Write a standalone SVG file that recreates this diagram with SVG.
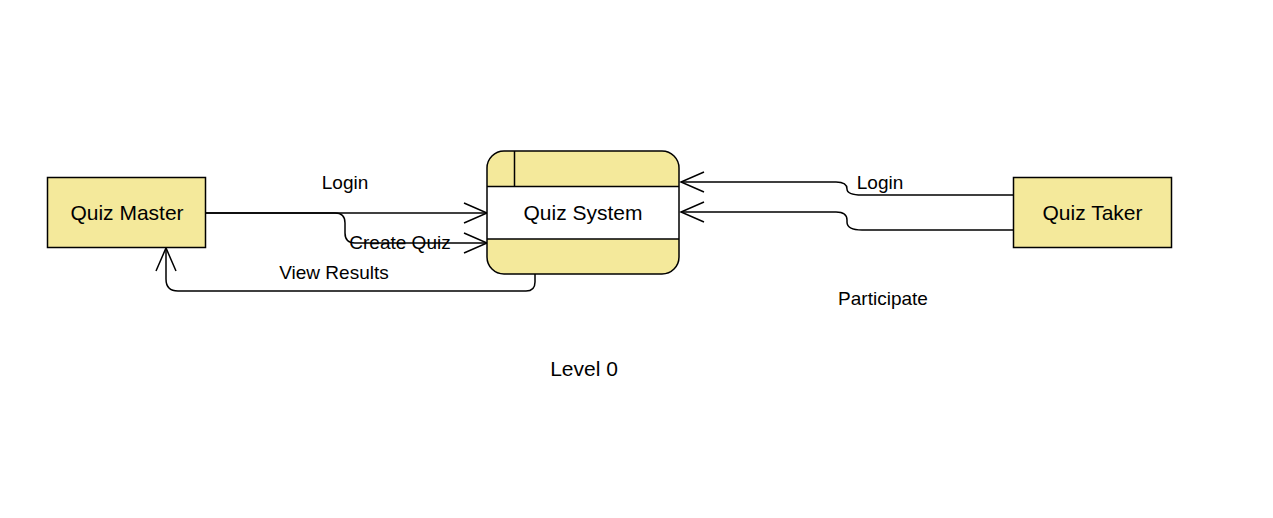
<svg xmlns="http://www.w3.org/2000/svg" width="1273" height="518" viewBox="0 0 1273 518">
<style>
.box{fill:#f4e99b;stroke:#000;stroke-width:1.5}
.ln{fill:none;stroke:#000;stroke-width:1.5}
.t{font-family:"Liberation Sans",Arial,sans-serif;fill:#000;text-anchor:middle}
.n{font-size:21px}
.l{font-size:19px}
</style>
<defs>
<marker id="arr" viewBox="-25 -12 27 24" markerWidth="27" markerHeight="24" refX="0" refY="0" orient="auto" markerUnits="userSpaceOnUse">
<path d="M-23,-10 L0,0 L-23,10" fill="none" stroke="#000" stroke-width="1.5"/>
</marker>
</defs>
<rect width="1273" height="518" fill="#fff"/>
<g id="connectors">
<path class="ln" d="M205,213 L487,213" marker-end="url(#arr)"/>
<path class="ln" d="M205,213 L335,213 Q345,213 345,223 L345,233 Q345,243 355,243 L487,243" marker-end="url(#arr)"/>
<path class="ln" d="M535,274 L535,282 Q535,291 526,291 L178,291 Q166,291 166,279 L166,248" marker-end="url(#arr)"/>
<path class="ln" d="M1013,195 L862,195 Q847,195 847,189 Q847,182 836,182 L681,182" marker-end="url(#arr)"/>
<path class="ln" d="M1013,230 L862,230 Q847,230 847,222 L847,220 Q847,212 836,212 L681,212" marker-end="url(#arr)"/>
<text class="t l" x="345" y="189">Login</text>
<text class="t l" x="400" y="249">Create Quiz</text>
<text class="t l" x="334" y="279">View Results</text>
<text class="t l" x="880" y="189">Login</text>
<text class="t l" x="883" y="305">Participate</text>
</g>
<g id="quiz-master">
<rect class="box" x="47.5" y="177.5" width="158" height="70"/>
<text class="t n" x="127" y="220">Quiz Master</text>
</g>
<g id="quiz-system">
<rect x="487" y="151" width="192" height="123" rx="17" fill="#f4e99b"/>
<rect x="487" y="186.5" width="192" height="52.5" fill="#fff"/>
<path class="ln" d="M487,186.5 L679,186.5 M487,239 L679,239 M514.5,151 L514.5,186.5"/>
<rect x="487" y="151" width="192" height="123" rx="17" fill="none" stroke="#000" stroke-width="1.5"/>
<text class="t n" x="583" y="220">Quiz System</text>
</g>
<g id="quiz-taker">
<rect class="box" x="1013.5" y="177.5" width="158" height="70"/>
<text class="t n" x="1092.5" y="220">Quiz Taker</text>
</g>
<text class="t n" x="584" y="376">Level 0</text>
</svg>
